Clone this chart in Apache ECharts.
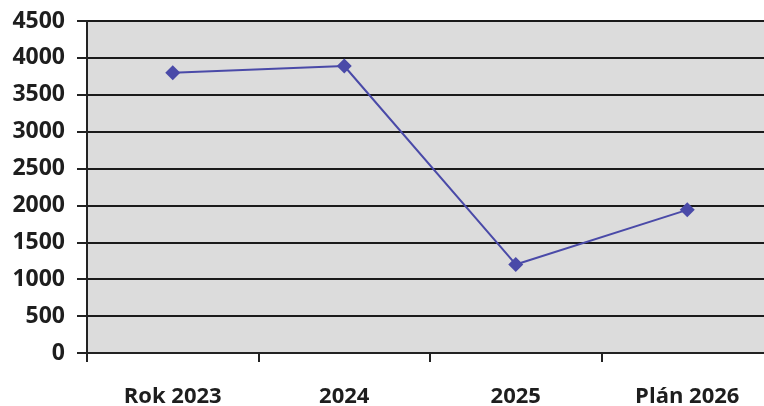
<!DOCTYPE html>
<html><head><meta charset="utf-8">
<script src="https://cdn.jsdelivr.net/npm/echarts@6/dist/echarts.min.js"></script>
<style>html,body{margin:0;padding:0;background:#fff}#c{width:764px;height:406px}</style>
</head><body><div id="c"></div>
<script>
const categories = ['Rok 2023', '2024', '2025', 'Plán 2026'];
const values = [3800, 3890, 1200, 1940];
const yMin = 0, yMax = 4500, yStep = 500;

const chart = echarts.init(document.getElementById('c'), null, {renderer: 'canvas'});
chart.setOption({
  animation: false,
  grid: {left: 87, width: 686, top: 21, bottom: 53, show: true, backgroundColor: '#dcdcdc', borderWidth: 0,
    outerBoundsMode: 'none', containLabel: false},
  xAxis: {
    type: 'category', data: categories, boundaryGap: true,
    axisLine: {lineStyle: {color: '#222', width: 2}},
    axisTick: {show: true, length: 9, lineStyle: {color: '#222', width: 2}},
    axisLabel: {color: '#1e1e1e', fontFamily: 'Open Sans', fontWeight: 'bold', fontSize: 22, margin: 33},
    splitLine: {show: false}
  },
  yAxis: {
    type: 'value', min: yMin, max: yMax, interval: yStep,
    axisLine: {show: true, lineStyle: {color: '#222', width: 2}},
    axisTick: {show: true, length: 10, lineStyle: {color: '#222', width: 2}},
    axisLabel: {color: '#1e1e1e', fontFamily: 'Open Sans', fontWeight: 'bold', fontSize: 23, margin: 22,
      formatter: v => String(v)},
    splitLine: {show: true, lineStyle: {color: '#1a1a1a', width: 2}}
  },
  series: [{
    type: 'line', data: values,
    symbol: 'diamond', symbolSize: 15,
    lineStyle: {color: '#4a4aa8', width: 2},
    itemStyle: {color: '#4a4aa8'}
  }]
});
</script></body></html>
